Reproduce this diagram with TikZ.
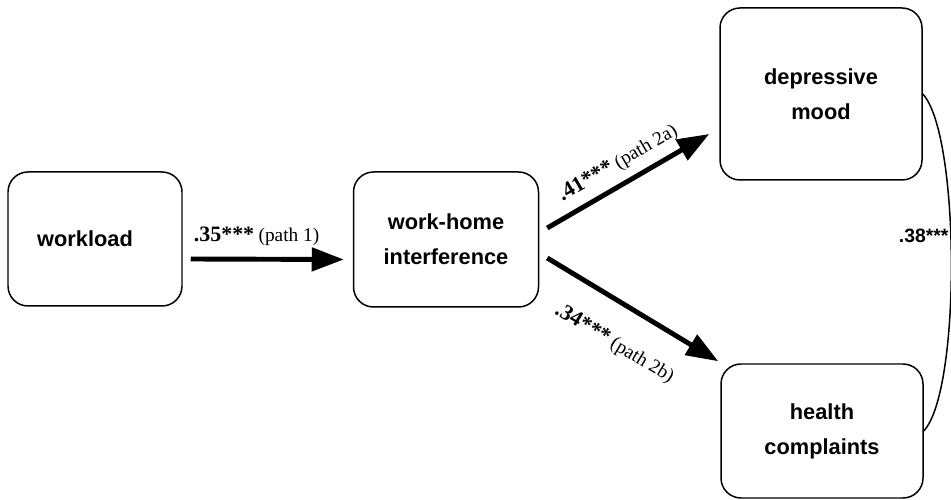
\documentclass[tikz,border=0pt]{standalone}
\usepackage{fontspec}
\setmainfont{Liberation Serif}
\setsansfont{Liberation Sans}
\usetikzlibrary{positioning,arrows.meta}
\tikzset{>={Triangle[length=0.64cm,width=0.46cm]}}

\newcommand{\coef}[2]{{\fontsize{12.5}{14}\selectfont\bfseries #1}~{\fontsize{11}{12}\selectfont (#2)}}

\begin{document}
\begin{tikzpicture}[
    var/.style={draw, line width=0.85pt, rounded corners=0.4cm, align=center,
      font=\sffamily\bfseries\fontsize{12.4}{20}\selectfont},
    patharrow/.style={->, line width=2.8pt}]
    \useasboundingbox (0,0) rectangle (19.02,-10);
    \node[var, minimum width=3.48cm, minimum height=2.68cm] (workload) at (1.9,-4.78) {workload\hspace{0.4cm}};
    \node[var, minimum width=3.7cm, minimum height=2.7cm] (whi) at (8.92,-4.79) {work-home\\interference};
    \node[var, minimum width=4.04cm, minimum height=3.44cm] (mood) at (16.42,-1.88) {depressive\\mood};
    \node[var, minimum width=4.04cm, minimum height=2.68cm] (health) at (16.44,-8.62) {health\\complaints};
    % paths
    \draw[patharrow] ([shift={(0.16,-0.4)}]workload.east) -- ([shift={(-0.18,-0.4)}]whi.west)
        node[pos=0.43, above=3pt] {\coef{.35***}{path 1}};
    \draw[patharrow] ([shift={(0.16,0.23)}]whi.east) -- ([shift={(-0.2,-0.8)}]mood.west)
        node[pos=0.5, sloped, above=1.5pt] {\coef{.41***}{path 2a}};
    \draw[patharrow] ([shift={(0.16,-0.37)}]whi.east) -- ([shift={(-0.04,0.04)}]health.north west)
        node[pos=0.51, sloped, below=12pt] {\coef{.34***}{path 2b}};
    % correlation
    \draw[line width=0.85pt] (mood.east) .. controls +(0.75,-0.8) and +(0.75,0.8) .. (health.east)
        node[pos=0.44, left=0pt, inner sep=1pt, font=\sffamily\bfseries\fontsize{11}{12}\selectfont] (corr) {.38***};
\end{tikzpicture}
\end{document}
